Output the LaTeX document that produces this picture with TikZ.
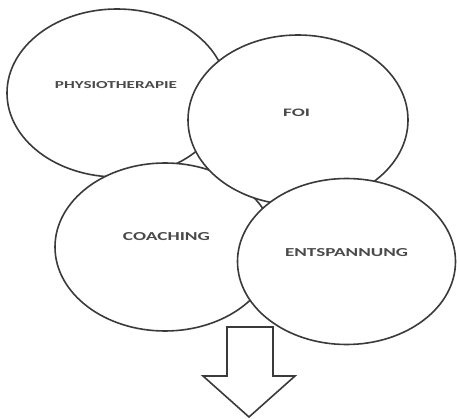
\documentclass[tikz,border=0pt]{standalone}
\usepackage{fontspec}
\setmainfont{Carlito}
\usepackage{graphicx}
\usetikzlibrary{shapes.geometric}
\definecolor{linegray}{HTML}{3A3A3A}
\definecolor{textgray}{HTML}{4A4A4A}
\tikzset{
  bubble/.style={ellipse, draw=linegray, fill=white, line width=1.6pt, inner sep=0pt},
  lbl/.style={inner sep=0pt, text=textgray, font=\bfseries},
  bigarrow/.style={draw=linegray, fill=white, line width=1.6pt, line join=miter}
}
\begin{document}
\begin{tikzpicture}[x=1pt,y=-1pt]
\useasboundingbox (0,0) rectangle (457,419);
\node[bubble, minimum width=220pt, minimum height=168pt] (phys) at (117,93) {};
\node[bubble, minimum width=220pt, minimum height=168pt] (coach) at (165,247) {};
\node[bubble, minimum width=220pt, minimum height=170pt] (foi) at (298,120) {};
\node[bubble, minimum width=218pt, minimum height=166pt] (ents) at (346.5,261.5) {};
\node[lbl] (tphys) at (116,85.5) {\resizebox{122pt}{7pt}{PHYSIOTHERAPIE}};
\node[lbl] (tfoi) at (296.5,113) {\resizebox{27pt}{7.5pt}{FOI}};
\node[lbl] (tcoach) at (166.5,237) {\resizebox{87pt}{8pt}{COACHING}};
\node[lbl] (tents) at (346.5,253) {\resizebox{123pt}{8pt}{ENTSPANNUNG}};
\draw[bigarrow] (227,327) -- (273,327) -- (273,376) -- (295,376) -- (249,417) -- (203,376) -- (227,376) -- cycle;
\end{tikzpicture}
\end{document}
